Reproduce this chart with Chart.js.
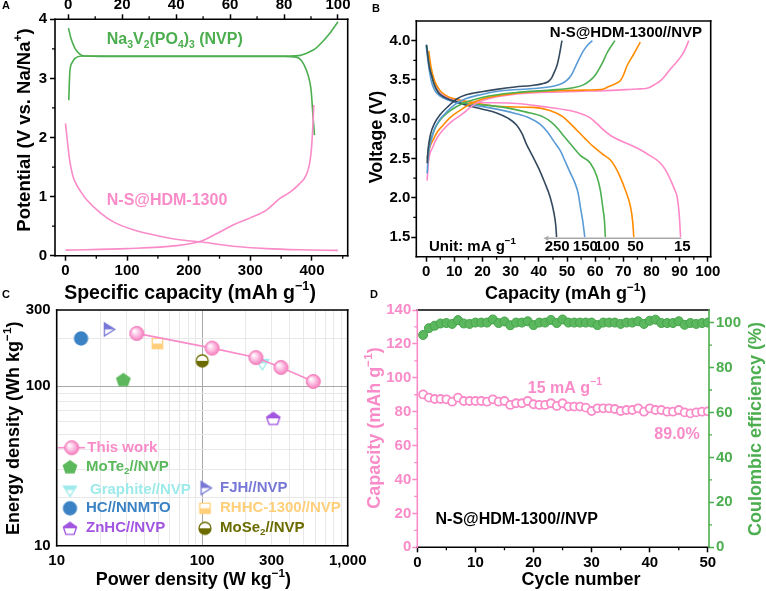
<!DOCTYPE html>
<html>
<head>
<meta charset="utf-8">
<script src="https://cdn.jsdelivr.net/npm/chart.js@4.4.1/dist/chart.umd.min.js"></script>
<style>
  html, body { margin: 0; padding: 0; background: #fff; }
  #fig { position: relative; width: 766px; height: 591px; overflow: hidden; background: #fff; }
  #fig canvas { position: absolute; }
  .tag { position: absolute; font: bold 11px "Liberation Sans", Arial, sans-serif; line-height: 11px; color: #000; }
</style>
</head>
<body>
<div id="fig">
  <canvas id="chartA" width="383" height="306" style="left:0;top:0"></canvas>
  <canvas id="chartB" width="406" height="306" style="left:360px;top:0"></canvas>
  <canvas id="chartC" width="383" height="296" style="left:0;top:295px"></canvas>
  <canvas id="chartD" width="406" height="296" style="left:360px;top:295px"></canvas>
  <div class="tag" style="left:2px;top:0">A</div>
  <div class="tag" style="left:372px;top:3px">B</div>
  <div class="tag" style="left:2px;top:289px">C</div>
  <div class="tag" style="left:370px;top:289px">D</div>
</div>
<script>
// ===================== DATA =====================

// A: half-cell profiles, [capacity, potential]
const anodeDischarge = [[0,2.24],[3,1.95],[7,1.6],[12,1.35],[17,1.22],[25,1.08],[34,0.95],[56,0.73],[80,0.56],[110,0.44],[153,0.33],[185,0.27],[218,0.235],[250,0.19],[272,0.16],[326,0.12],[380,0.1],[442,0.09]];
const anodeCharge = [[0,0.095],[100,0.12],[180,0.17],[218,0.24],[245,0.37],[272,0.52],[300,0.64],[326,0.77],[348,0.97],[365,1.08],[380,1.22],[390,1.35],[396,1.55],[399,1.79],[401,2.1],[402,2.3],[403,2.55]];
const nvpCharge = [[0.2,2.63],[0.6,3.11],[1.5,3.27],[2.5,3.34],[5,3.38],[20,3.38],[50,3.38],[75,3.38],[82,3.38],[86,3.39],[89.5,3.45],[91.5,3.5],[93,3.56],[96.9,3.76],[100,3.96]];
const nvpDischarge = [[0.1,3.85],[1,3.68],[2.5,3.51],[4.3,3.41],[6,3.38],[20,3.37],[50,3.37],[80,3.37],[84.5,3.36],[86.5,3.3],[88.3,3.14],[89.5,2.95],[90.1,2.77],[90.7,2.38],[91.3,2.04]];
const ticksAx = [0, 100, 200, 300, 400];
const ticksAx2 = [0, 20, 40, 60, 80, 100];
const ticksAy = [0, 1, 2, 3, 4];

// B: full cell at different rates, [capacity, voltage]
const rates = ['250', '150', '100', '50', '15'];
const rateLabelX = [46.5, 56.5, 64.2, 74.3, 90.9];
const charge250 = [[0.35,2.44],[0.7,2.62],[1.5,2.8],[3,2.95],[5,3.06],[8,3.17],[11,3.26],[14.2,3.31],[19.7,3.35],[25,3.38],[31.6,3.41],[37.5,3.43],[41,3.45],[43.4,3.48],[44.6,3.53],[45.5,3.6],[46.4,3.68],[47.3,3.82],[48.2,4.0]];
const discharge250 = [[0.1,3.95],[0.6,3.8],[1.2,3.65],[1.9,3.56],[3,3.43],[4.3,3.34],[6.5,3.28],[9,3.24],[14,3.18],[19.7,3.13],[25,3.08],[29.2,3.01],[32,2.93],[34,2.82],[35.5,2.69],[37.5,2.55],[40,2.37],[42,2.2],[44,2.01],[45.4,1.8],[46,1.65],[46.3,1.5]];
const charge150 = [[0.35,2.31],[0.8,2.55],[1.8,2.73],[3,2.88],[4.7,2.99],[7.5,3.1],[10.7,3.2],[14,3.26],[17.8,3.3],[26.1,3.36],[38,3.39],[45.1,3.42],[48,3.45],[49.8,3.49],[51.5,3.56],[53.4,3.7],[55.8,3.87],[57.5,3.95],[59,4.0]];
const discharge150 = [[0,3.94],[0.8,3.7],[1.8,3.49],[3,3.37],[4.7,3.3],[8,3.24],[11.9,3.2],[20.2,3.16],[32,3.07],[37,3.01],[40.3,2.94],[43,2.84],[45.1,2.73],[47.6,2.6],[49.5,2.45],[51,2.33],[52.9,2.18],[54,2.05],[54.7,1.89],[55.6,1.7],[56.3,1.5]];
const charge100 = [[0.35,2.5],[1,2.66],[2.4,2.82],[4,2.94],[5.9,3.03],[9,3.12],[13,3.2],[20.2,3.28],[32,3.34],[43.9,3.37],[52.2,3.4],[56,3.44],[58.1,3.49],[60,3.56],[61.7,3.66],[63,3.75],[64,3.83],[65.5,3.92],[67,4.0]];
const discharge100 = [[0.2,3.94],[1,3.7],[2.4,3.49],[4,3.36],[5.9,3.28],[9,3.24],[14.2,3.2],[26.1,3.16],[35.6,3.09],[41.5,3.03],[44.5,2.96],[47,2.87],[49,2.78],[51.1,2.69],[54.7,2.54],[58.3,2.44],[60.6,2.27],[61.8,2.1],[62.8,1.85],[63.3,1.7],[63.6,1.5]];
const charge50 = [[0.5,2.44],[1,2.6],[2.4,2.73],[4,2.84],[5.9,2.92],[8.5,3.02],[11.9,3.11],[15,3.18],[20.2,3.26],[32,3.33],[43.9,3.36],[55.8,3.37],[63,3.385],[64.5,3.41],[66.5,3.44],[68.9,3.49],[70,3.56],[71.3,3.68],[73.7,3.83],[76,3.98]];
const discharge50 = [[0.9,3.87],[1.8,3.65],[3,3.49],[4.8,3.37],[7.1,3.3],[10,3.26],[15.4,3.22],[26.1,3.16],[38,3.15],[43.9,3.11],[48.6,3.03],[51,2.95],[53.5,2.86],[56.5,2.75],[59.4,2.65],[62.5,2.56],[65.4,2.48],[67,2.4],[68.3,2.31],[70.7,2.1],[72.5,1.89],[73.3,1.7],[73.7,1.5]];
const charge15 = [[0.35,2.22],[0.8,2.45],[2.4,2.65],[4,2.77],[5.9,2.86],[9,2.97],[13,3.07],[16,3.16],[20.2,3.24],[32,3.32],[49.8,3.35],[67.6,3.37],[75,3.385],[78,3.39],[79.6,3.41],[81.5,3.45],[83.2,3.49],[85,3.56],[86.7,3.64],[88.5,3.71],[90.3,3.79],[91.8,3.88],[93.2,4.0]];
const discharge15 = [[0.5,3.87],[1.5,3.62],[3,3.45],[4.8,3.34],[7.1,3.28],[10,3.25],[15.4,3.22],[32,3.2],[41.5,3.16],[51,3.11],[55,3.07],[58.1,3.02],[61,2.93],[63,2.86],[66,2.78],[71.3,2.69],[75,2.63],[78.4,2.56],[83.2,2.44],[85.2,2.34],[86.7,2.23],[88,2.12],[89.1,2.01],[89.8,1.8],[90.3,1.5]];
const ticksBx = [0, 10, 20, 30, 40, 50, 60, 70, 80, 90, 100];
const ticksBy = [1.5, 2.0, 2.5, 3.0, 3.5, 4.0];

// C: Ragone plot (power W/kg, energy Wh/kg)
const thisWorkPower = [35.5, 117, 234, 348, 580];
const thisWorkEnergy = [214, 173, 151, 131, 107];
const refNames = ['MoTe_{2}//NVP', 'Graphite//NVP', 'HC//NNMTO', 'ZnHC//NVP', 'FJH//NVP', 'RHHC-1300//NVP', 'MoSe_{2}//NVP'];
const refPower = [28.7, 259, 14.7, 308, 22.6, 49.2, 100];
const refEnergy = [110, 139, 199, 62.8, 227, 185, 144];
const ticksCx = [10, 100, 1000];
const ticksCy = [10, 100, 300];

// D: cycling at 15 mA/g
const cycles = [1,2,3,4,5,6,7,8,9,10,11,12,13,14,15,16,17,18,19,20,21,22,23,24,25,26,27,28,29,30,31,32,33,34,35,36,37,38,39,40,41,42,43,44,45,46,47,48,49,50];
const capacity = [90.2,88.3,87.5,87.5,87.3,85.9,88.3,86.3,86.3,86.3,86.3,85.9,87.3,85.9,86.3,84,85,85,86.3,84.4,84,84,85,83.4,85,83,83,83,82.4,80.4,82,82,82,81.6,80.4,81,81,82,80,82,81,81,80,80,81,79.6,79,79.6,80,80.2];
const efficiency = [94.5,97.5,98.6,99.6,99.8,99.4,101.1,99.6,99.4,100,100,100,101.4,99.8,100.5,98.8,100,100,100.6,98.9,100,100,101.2,99.8,101.4,100,100,100,100,100,98.9,100,100,100,99.4,100,100,100.6,99.4,100.8,101.3,99.8,99.8,99.8,100.6,99,99.8,99.4,99.8,100];
const ticksDx = [0, 10, 20, 30, 40, 50];
const ticksDy = [0, 20, 40, 60, 80, 100, 120, 140];
const ticksDy2 = [0, 20, 40, 60, 80, 100];

// ===================== STYLE =====================
const FONT = '"Liberation Sans", Arial, Helvetica, sans-serif';
const PINK = '#f98bc8';
const GREEN = '#4cae4f';
const rateColors = ['#34495e', '#5b9bd5', '#4caf50', '#ff8c00', '#ff88c8'];
const refColors = ['#5cb85c', '#9eeaea', '#3b82c4', '#a155e0', '#7777d6', '#ffcf7a', '#6b6b00'];
Chart.defaults.font.family = FONT;

function pts(pairs) { return pairs.map(([x, y]) => ({ x, y })); }
function zip(xs, ys) { return xs.map((x, i) => ({ x, y: ys[i] })); }
function steps(a, b, s) { const out = []; for (let v = a; v <= b + 1e-9; v += s) out.push(+v.toFixed(4)); return out; }

// texto con subíndices _{..} y superíndices ^{..}
function parseRich(str) {
  const parts = [];
  const re = /([_^])\{([^}]*)\}/g;
  let last = 0, m;
  while ((m = re.exec(str))) {
    if (m.index > last) parts.push([str.slice(last, m.index), '']);
    parts.push([m[2], m[1] === '_' ? 'sub' : 'sup']);
    last = re.lastIndex;
  }
  if (last < str.length) parts.push([str.slice(last), '']);
  return parts;
}

function drawRich(ctx, str, x, y, o = {}) {
  const size = o.size || 16;
  const parts = parseRich(str);
  const fontFor = m => `bold ${m ? size * 0.65 : size}px ${FONT}`;
  ctx.save();
  ctx.translate(x, y);
  ctx.rotate(o.rot || 0);
  ctx.fillStyle = o.color || '#000';
  ctx.textBaseline = 'middle';
  ctx.textAlign = 'left';
  let w = 0;
  for (const [t, m] of parts) { ctx.font = fontFor(m); w += ctx.measureText(t).width; }
  let cx = o.align === 'center' ? -w / 2 : o.align === 'right' ? -w : 0;
  for (const [t, m] of parts) {
    ctx.font = fontFor(m);
    const dy = m === 'sub' ? size * 0.3 : m === 'sup' ? -size * 0.36 : 0;
    ctx.fillText(t, cx, dy);
    cx += ctx.measureText(t).width;
  }
  ctx.restore();
}

// eje con ticks fijos y tamaño fijo para clavar el área del gráfico
function axis(position, min, max, ticks, size, o = {}) {
  const color = o.color || '#000';
  return {
    type: o.type || 'linear',
    position, min, max,
    afterBuildTicks: s => { s.ticks = ticks.map(v => ({ value: v })); },
    afterFit: s => { if (s.isHorizontal()) s.height = size; else s.width = size; },
    border: { display: false },
    grid: o.grid || { drawOnChartArea: false, drawTicks: true, tickLength: 5, tickColor: color, tickWidth: 1.5 },
    ticks: {
      color, padding: o.pad ?? 2, maxRotation: 0, minRotation: 0, autoSkip: false,
      font: { family: FONT, size: 15, weight: 'bold' },
      callback: o.fmt || (v => String(v))
    },
    title: { display: false }
  };
}

function baseOptions(padding, scales) {
  return {
    responsive: false, animation: false, devicePixelRatio: 1, events: [],
    layout: { padding },
    plugins: { legend: { display: false }, tooltip: { enabled: false } },
    scales
  };
}

function curve(pairs, color, xAxisID = 'x') {
  return {
    data: pts(pairs), xAxisID, yAxisID: 'y', showLine: true,
    borderColor: color, borderWidth: 1.6, pointRadius: 0,
    cubicInterpolationMode: 'monotone', fill: false
  };
}

function frame(ctx, a, c = {}) {
  ctx.save();
  ctx.lineWidth = 1.6;
  ctx.lineCap = 'square';
  const side = (col, x1, y1, x2, y2) => {
    ctx.strokeStyle = col || '#000';
    ctx.beginPath(); ctx.moveTo(x1, y1); ctx.lineTo(x2, y2); ctx.stroke();
  };
  side(c.top, a.left, a.top, a.right, a.top);
  side(c.bottom, a.left, a.bottom, a.right, a.bottom);
  side(c.left, a.left, a.top, a.left, a.bottom);
  side(c.right, a.right, a.top, a.right, a.bottom);
  ctx.restore();
}

// ticks menores hacia afuera
function minor(ctx, s, values, color = '#000', len = 3) {
  ctx.save();
  ctx.strokeStyle = color;
  ctx.lineWidth = 1.3;
  ctx.beginPath();
  for (const v of values) {
    const p = s.getPixelForValue(v);
    if (s.isHorizontal()) {
      const y0 = s.position === 'top' ? s.bottom : s.top;
      const d = s.position === 'top' ? -len : len;
      ctx.moveTo(p, y0); ctx.lineTo(p, y0 + d);
    } else {
      const x0 = s.position === 'right' ? s.left : s.right;
      const d = s.position === 'right' ? len : -len;
      ctx.moveTo(x0, p); ctx.lineTo(x0 + d, p);
    }
  }
  ctx.stroke();
  ctx.restore();
}

// ---- marcadores (canvas) ----
function markerCanvas(size, draw) {
  const c = document.createElement('canvas');
  c.width = size; c.height = size;
  draw(c.getContext('2d'), size / 2, size);
  return c;
}
const shapes = {
  circle: (g, c, r) => { g.beginPath(); g.arc(c, c, r, 0, Math.PI * 2); },
  square: (g, c, r) => { g.beginPath(); g.rect(c - r * 0.8, c - r * 0.8, r * 1.6, r * 1.6); },
  triDown: (g, c, r) => { g.beginPath(); g.moveTo(c - r, c - r * 0.6); g.lineTo(c + r, c - r * 0.6); g.lineTo(c, c + r); g.closePath(); },
  triRight: (g, c, r) => { g.beginPath(); g.moveTo(c - r * 0.6, c - r); g.lineTo(c + r, c); g.lineTo(c - r * 0.6, c + r); g.closePath(); },
  pentagon: (g, c, r) => {
    g.beginPath();
    for (let k = 0; k < 5; k++) {
      const t = -Math.PI / 2 + k * 2 * Math.PI / 5;
      const px = c + r * Math.cos(t), py = c + r * 0.95 * Math.sin(t) + r * 0.1;
      k ? g.lineTo(px, py) : g.moveTo(px, py);
    }
    g.closePath();
  }
};
function marker(shape, color, half, r = 6.5) {
  const size = Math.ceil(r * 2 + 4);
  return markerCanvas(size, (g, c) => {
    const path = () => shapes[shape](g, c, r);
    path(); g.fillStyle = '#fff'; g.fill();
    g.save(); path(); g.clip();
    g.fillStyle = color;
    if (half === 'top') g.fillRect(0, 0, size, c);
    else if (half === 'bottom') g.fillRect(0, c, size, size);
    else g.fillRect(0, 0, size, size);
    g.restore();
    path(); g.strokeStyle = color; g.lineWidth = 1.3; g.stroke();
  });
}
const sphere = markerCanvas(17, (g, c) => {
  const grad = g.createRadialGradient(c - 2.5, c - 2.5, 0.5, c, c, 7.2);
  grad.addColorStop(0, '#ffffff');
  grad.addColorStop(0.35, '#ffd3ec');
  grad.addColorStop(1, '#f47cbd');
  g.beginPath(); g.arc(c, c, 7, 0, Math.PI * 2);
  g.fillStyle = grad; g.fill();
  g.strokeStyle = '#f27ab9'; g.lineWidth = 1; g.stroke();
});
const refMarkers = [
  marker('pentagon', refColors[0], 'full', 7),
  marker('triDown', refColors[1], 'top', 6.5),
  marker('circle', refColors[2], 'full', 6.5),
  marker('pentagon', refColors[3], 'top', 7),
  marker('triRight', refColors[4], 'top', 6.5),
  marker('square', refColors[5], 'bottom', 6.5),
  marker('circle', refColors[6], 'bottom', 6)
];

// ===================== A =====================
new Chart(document.getElementById('chartA'), {
  type: 'scatter',
  data: { datasets: [
    curve(anodeDischarge, PINK), curve(anodeCharge, PINK),
    curve(nvpCharge, GREEN, 'x2'), curve(nvpDischarge, GREEN, 'x2')
  ] },
  options: baseOptions({ right: 35.3 }, {
    x: axis('bottom', -17, 458, ticksAx, 50.3, { pad: 1 }),
    x2: axis('top', -4.9, 103.6, ticksAx2, 19.3, { pad: 0 }),
    y: axis('left', 0, 4, ticksAy, 55, { pad: 3 })
  }),
  plugins: [{
    id: 'decorA',
    afterDraw(chart) {
      const { ctx, chartArea: a, scales: s } = chart;
      frame(ctx, a);
      minor(ctx, s.x, steps(50, 450, 100));
      minor(ctx, s.x2, steps(10, 90, 20));
      minor(ctx, s.y, steps(0.5, 3.5, 1));
      drawRich(ctx, 'Na_{3}V_{2}(PO_{4})_{3} (NVP)', s.x.getPixelForValue(67), s.y.getPixelForValue(3.65), { size: 16, color: GREEN });
      drawRich(ctx, 'N-S@HDM-1300', s.x.getPixelForValue(67), s.y.getPixelForValue(0.94), { size: 16, color: PINK });
      drawRich(ctx, 'Potential (V vs. Na/Na^{+})', 25, 130, { size: 18.5, rot: -Math.PI / 2, align: 'center' });
      drawRich(ctx, 'Specific capacity (mAh g^{−1})', 190, 294, { size: 19.5, align: 'center' });
    }
  }]
});

// ===================== B =====================
const chargeB = [charge250, charge150, charge100, charge50, charge15];
const dischargeB = [discharge250, discharge150, discharge100, discharge50, discharge15];
new Chart(document.getElementById('chartB'), {
  type: 'scatter',
  data: { datasets: [
    ...chargeB.map((c, i) => curve(c, rateColors[i])),
    ...dischargeB.map((c, i) => curve(c, rateColors[i]))
  ] },
  options: baseOptions({ top: 21, right: 55.3 }, {
    x: axis('bottom', -3.5, 101, ticksBx, 49.3, { pad: 1 }),
    y: axis('left', 1.25, 4.25, ticksBy, 56.3, { pad: 1, fmt: v => v.toFixed(1) })
  }),
  plugins: [{
    id: 'decorB',
    afterDraw(chart) {
      const { ctx, chartArea: a, scales: s } = chart;
      frame(ctx, a);
      minor(ctx, s.x, steps(5, 95, 10));
      minor(ctx, s.y, steps(1.75, 3.75, 0.5));
      // flecha gris
      const ya = s.y.getPixelForValue(1.485);
      const x0 = s.x.getPixelForValue(41.6), x1 = s.x.getPixelForValue(90.6);
      ctx.save();
      ctx.strokeStyle = '#aaaaaa'; ctx.fillStyle = '#aaaaaa'; ctx.lineWidth = 1.5;
      ctx.beginPath(); ctx.moveTo(x0 + 3, ya); ctx.lineTo(x1, ya); ctx.stroke();
      ctx.beginPath(); ctx.moveTo(x0, ya); ctx.lineTo(x0 + 5, ya - 2.5); ctx.lineTo(x0 + 5, ya + 2.5); ctx.closePath(); ctx.fill();
      ctx.restore();
      rates.forEach((r, i) => drawRich(ctx, r, s.x.getPixelForValue(rateLabelX[i]), s.y.getPixelForValue(1.38), { size: 15, align: 'center' }));
      drawRich(ctx, 'Unit: mA g^{−1}', s.x.getPixelForValue(1), s.y.getPixelForValue(1.38), { size: 15 });
      drawRich(ctx, 'N-S@HDM-1300//NVP', s.x.getPixelForValue(43.9), s.y.getPixelForValue(4.105), { size: 15 });
      drawRich(ctx, 'Voltage (V)', 17, 137, { size: 18, rot: -Math.PI / 2, align: 'center' });
      drawRich(ctx, 'Capacity (mAh g^{−1})', 205.6, 294, { size: 18, align: 'center' });
    }
  }]
});

// ===================== C =====================
const gridCx = [...steps(10, 100, 10), ...steps(200, 1000, 100)];
const gridCy = [...steps(10, 100, 10), 200, 300];
const logGrid = { drawOnChartArea: true, drawTicks: false, lineWidth: 1, color: c => (c.tick && c.tick.value === 100 ? '#a8a8a8' : '#e8e8e8') };
const labelC = v => (v === 1000 ? '1,000' : [10, 100, 300].includes(v) ? String(v) : '');
const axC = (pos, min, max, ticks, size, pad) => axis(pos, min, max, ticks, size, { type: 'logarithmic', grid: logGrid, pad, fmt: labelC });
new Chart(document.getElementById('chartC'), {
  type: 'scatter',
  data: { datasets: [
    { data: zip(thisWorkPower, thisWorkEnergy), showLine: true, borderColor: PINK, borderWidth: 1.6, pointStyle: sphere, pointRadius: 7 },
    ...refNames.map((n, i) => ({ data: [{ x: refPower[i], y: refEnergy[i] }], pointStyle: refMarkers[i], pointRadius: 7 }))
  ] },
  options: baseOptions({ top: 15, right: 35.3 }, {
    x: axC('bottom', 10, 1000, gridCx, 45.3, 6),
    y: axC('left', 10, 300, gridCy, 56.7, 6)
  }),
  plugins: [{
    id: 'decorC',
    afterDraw(chart) {
      const { ctx, chartArea: a } = chart;
      frame(ctx, a);
      // leyenda
      ctx.save();
      ctx.strokeStyle = PINK; ctx.lineWidth = 1.6;
      ctx.beginPath(); ctx.moveTo(58, 152.7); ctx.lineTo(85, 152.7); ctx.stroke();
      ctx.restore();
      ctx.drawImage(sphere, 71.7 - sphere.width / 2, 152.7 - sphere.height / 2);
      drawRich(ctx, 'This work', 87.3, 152.7, { size: 15, color: PINK });
      const slots = [[70, 171.7, 86], [70, 195, 90], [70, 213.3, 86], [70, 233.3, 86], [205, 193, 220], [205, 213.3, 220], [205, 233.3, 220]];
      refNames.forEach((n, i) => {
        const [mx, my, tx] = slots[i];
        const m = refMarkers[i];
        ctx.drawImage(m, mx - m.width / 2, my - m.height / 2);
        drawRich(ctx, n, tx, my, { size: 15, color: refColors[i] });
      });
      drawRich(ctx, 'Energy density (Wh kg^{−1})', 14, 133.3, { size: 18, rot: -Math.PI / 2, align: 'center' });
      drawRich(ctx, 'Power density (W kg^{−1})', 193.3, 285, { size: 18, align: 'center' });
    }
  }]
});

// ===================== D =====================
new Chart(document.getElementById('chartD'), {
  type: 'scatter',
  data: { datasets: [
    { data: zip(cycles, capacity), yAxisID: 'y', pointStyle: 'circle', pointRadius: 4, borderWidth: 1.8, borderColor: PINK, backgroundColor: '#ffffff' },
    { data: zip(cycles, efficiency), yAxisID: 'y2', pointStyle: 'circle', pointRadius: 4.5, borderWidth: 1, borderColor: '#46a449', backgroundColor: '#5cb85f' }
  ] },
  options: baseOptions({ top: 15 }, {
    x: axis('bottom', 0, 50.2, ticksDx, 43.7, { pad: 2 }),
    y: axis('left', 0, 140, ticksDy, 57.3, { pad: 1, color: PINK }),
    y2: axis('right', 0, 105.6, ticksDy2, 57, { pad: 2, color: GREEN })
  }),
  plugins: [{
    id: 'decorD',
    afterDraw(chart) {
      const { ctx, chartArea: a, scales: s } = chart;
      frame(ctx, a, { left: PINK, right: GREEN });
      minor(ctx, s.x, steps(5, 45, 10));
      minor(ctx, s.y, steps(10, 130, 20), PINK);
      minor(ctx, s.y2, steps(10, 90, 20), GREEN);
      drawRich(ctx, '15 mA g^{−1}', s.x.getPixelForValue(25.4), s.y.getPixelForValue(93.8), { size: 16, color: PINK, align: 'center' });
      drawRich(ctx, '89.0%', s.x.getPixelForValue(44.7), s.y.getPixelForValue(66.3), { size: 16, color: PINK, align: 'center' });
      drawRich(ctx, 'N-S@HDM-1300//NVP', s.x.getPixelForValue(17.1), s.y.getPixelForValue(16.1), { size: 16, align: 'center' });
      drawRich(ctx, 'Capacity (mAh g^{−1})', 15, 133, { size: 18, color: PINK, rot: -Math.PI / 2, align: 'center' });
      drawRich(ctx, 'Coulombic efficiency (%)', 396, 134, { size: 18, color: GREEN, rot: -Math.PI / 2, align: 'center' });
      drawRich(ctx, 'Cycle number', 221, 285, { size: 18, align: 'center' });
    }
  }]
});
</script>
</body>
</html>
